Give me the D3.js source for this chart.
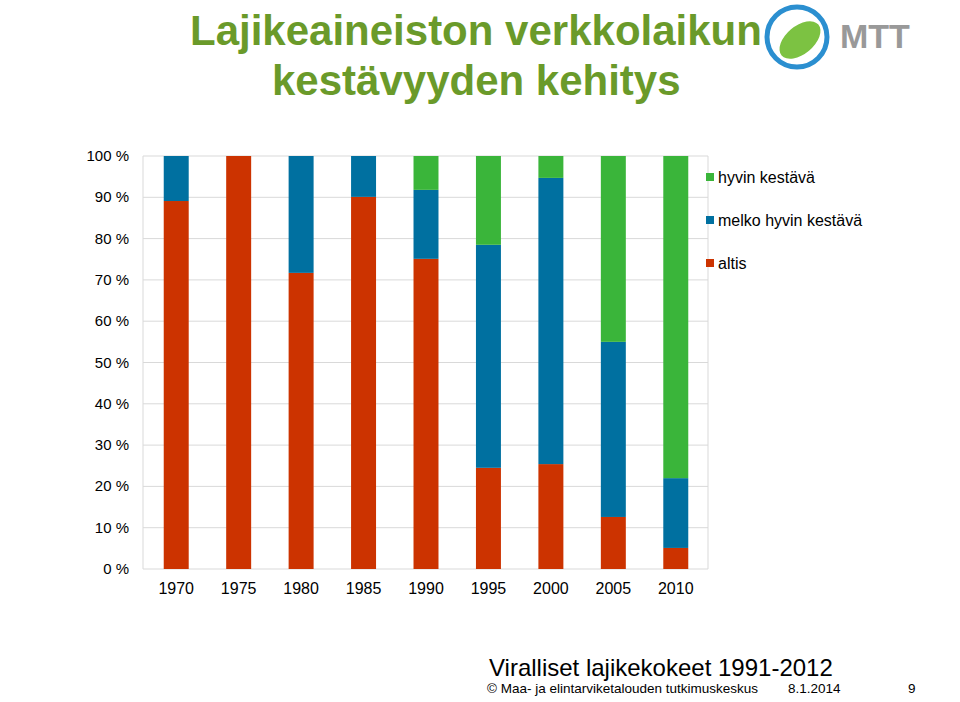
<!DOCTYPE html>
<html><head><meta charset="utf-8">
<script src="https://cdn.jsdelivr.net/npm/d3@7"></script>
<style>body{margin:0;background:#fff;font-family:Arial,"Liberation Sans",sans-serif}</style>
</head><body><svg id="c" width="960" height="702"></svg>
<script>
var years = ["1970","1975","1980","1985","1990","1995","2000","2005","2010"];
var altis = [89.1,100,71.7,90.1,75.1,24.5,25.4,12.6,5.1];
var melko = [10.9,0,28.3,9.9,16.7,54.0,69.3,42.4,16.9];
var hyvin = [0,0,0,0,8.2,21.5,5.3,45.0,78.0];
var yTicks = [0,10,20,30,40,50,60,70,80,90,100];
var seriesNames = ["altis","melko hyvin kestävä","hyvin kestävä"];
var colors = ["#cc3300","#0070a0","#3ab53a"];

var svg = d3.select("#c");
svg.append("text").attr("x",190).attr("y",45).attr("fill","#6a9a2a").attr("font-size",42).attr("font-weight","bold").text("Lajikeaineiston verkkolaikun");
svg.append("text").attr("x",272).attr("y",95).attr("fill","#6a9a2a").attr("font-size",42).attr("font-weight","bold").text("kestävyyden kehitys");

// logo
var lg = svg.append("g");
lg.append("circle").attr("cx",797).attr("cy",37).attr("r",30).attr("fill","none").attr("stroke","#2b8fd0").attr("stroke-width",5);
lg.append("ellipse").attr("cx",800).attr("cy",40).attr("rx",24).attr("ry",14).attr("transform","rotate(-40 800 40)").attr("fill","#7cc242");
lg.append("text").attr("x",840).attr("y",48).attr("fill","#999").attr("font-size",34).attr("font-weight","bold").text("MTT");

var x = d3.scaleBand().domain(years).range([145,707]).paddingInner(0.6).paddingOuter(0.3);
var y = d3.scaleLinear().domain([0,100]).range([569,156]);

svg.append("g").selectAll("line").data(yTicks).join("line")
  .attr("x1",143).attr("x2",708).attr("y1",d=>y(d)).attr("y2",d=>y(d)).attr("stroke","#d9d9d9");
svg.append("line").attr("x1",143).attr("x2",143).attr("y1",156).attr("y2",569).attr("stroke","#d9d9d9");
svg.append("line").attr("x1",708).attr("x2",708).attr("y1",156).attr("y2",569).attr("stroke","#d9d9d9");
svg.append("g").selectAll("text").data(yTicks).join("text")
  .attr("x",129).attr("y",d=>y(d)+5).attr("text-anchor","end").attr("font-size",15).attr("fill","#000").text(d=>d+" %");
svg.append("g").selectAll("text").data(years).join("text")
  .attr("x",d=>x(d)+x.bandwidth()/2).attr("y",594).attr("text-anchor","middle").attr("font-size",16).text(d=>d);

var rows = years.map((yr,i)=>({year:yr,a:altis[i],m:melko[i],h:hyvin[i]}));
var stack = d3.stack().keys(["a","m","h"])(rows);
svg.append("g").selectAll("g").data(stack).join("g").attr("fill",(d,i)=>colors[i])
  .selectAll("rect").data(d=>d).join("rect")
  .attr("x",d=>x(d.data.year)).attr("width",x.bandwidth())
  .attr("y",d=>y(d[1])).attr("height",d=>y(d[0])-y(d[1]));

var leg = [2,1,0];
leg.forEach((k,j)=>{
  var yy = 178 + j*43;
  svg.append("rect").attr("x",706).attr("y",yy-5).attr("width",8).attr("height",8).attr("fill",colors[k]);
  svg.append("text").attr("x",718).attr("y",yy+5).attr("font-size",16).text(seriesNames[k]);
});

svg.append("text").attr("x",489).attr("y",676).attr("font-size",24).text("Viralliset lajikekokeet 1991-2012");
svg.append("text").attr("x",487).attr("y",693).attr("font-size",13.5).text("© Maa- ja elintarviketalouden tutkimuskeskus");
svg.append("text").attr("x",788).attr("y",693).attr("font-size",13.5).text("8.1.2014");
svg.append("text").attr("x",908).attr("y",693).attr("font-size",13.5).text("9");
</script></body></html>
